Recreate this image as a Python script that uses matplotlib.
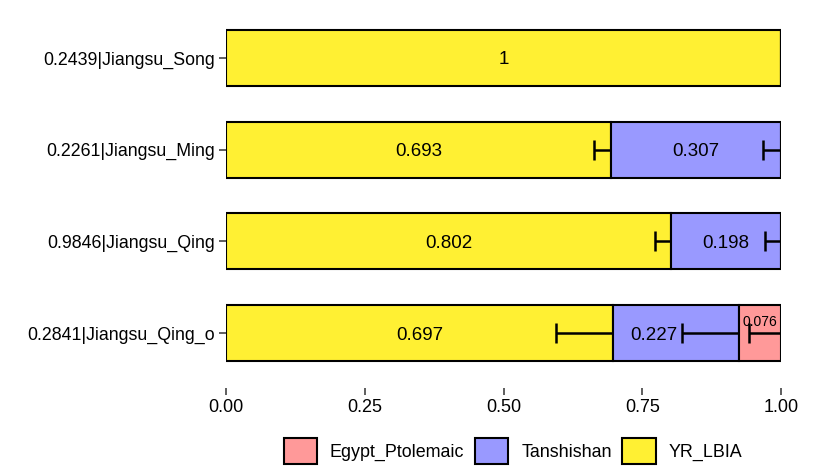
import matplotlib
matplotlib.use("Agg")
import matplotlib.pyplot as plt
from matplotlib.patches import Patch
import numpy as np

plt.rcParams['font.family'] = ['Liberation Sans', 'DejaVu Sans']

categories = ["0.2439|Jiangsu_Song", "0.2261|Jiangsu_Ming",
              "0.9846|Jiangsu_Qing", "0.2841|Jiangsu_Qing_o"]
sources = ["YR_LBIA", "Tanshishan", "Egypt_Ptolemaic"]
yr_lbia = [1.0, 0.693, 0.802, 0.697]
tanshishan = [0.0, 0.307, 0.198, 0.227]
egypt = [0.0, 0.0, 0.0, 0.076]
se_yr = [0.0, 0.030, 0.029, 0.102]
se_tan = [0.0, 0.032, 0.029, 0.103]
se_egy = [0.0, 0.0, 0.0, 0.057]
colors = {"YR_LBIA": "#FFF033", "Tanshishan": "#9999FF", "Egypt_Ptolemaic": "#FF9999"}

# repel-like label offsets (points) per (row, source)
label_offsets = {(3, "Tanshishan"): (-16, 0), (3, "Egypt_Ptolemaic"): (0, 9)}
label_sizes = {(3, "Egypt_Ptolemaic"): 10}

fig = plt.figure(figsize=(8.27, 4.74), dpi=100)
ax = fig.add_axes([226/827, 1-388/474, (781-226)/827, (388-3)/474])

vals = {"YR_LBIA": yr_lbia, "Tanshishan": tanshishan, "Egypt_Ptolemaic": egypt}
ses = {"YR_LBIA": se_yr, "Tanshishan": se_tan, "Egypt_Ptolemaic": se_egy}
ypos = np.arange(len(categories))
left = np.zeros(len(categories))
for src in sources:
    v = np.array(vals[src])
    ax.barh(ypos, v, left=left, height=0.61, color=colors[src],
            edgecolor="black", linewidth=1.5, zorder=2)
    right = left + v
    for i in range(len(categories)):
        if v[i] <= 0:
            continue
        se = ses[src][i]
        if se > 0:
            ax.plot([right[i] - se, right[i]], [ypos[i], ypos[i]],
                    color="black", lw=1.8, zorder=4, solid_capstyle="butt")
            ax.plot([right[i] - se, right[i] - se], [ypos[i] - 0.11, ypos[i] + 0.11],
                    color="black", lw=1.8, zorder=4, solid_capstyle="butt")
        mid = left[i] + v[i] / 2
        lab = "1" if v[i] == 1 else f"{v[i]:.3f}"
        off = label_offsets.get((i, src), (0, 0))
        fs = label_sizes.get((i, src), 13.5)
        ax.annotate(lab, (mid, ypos[i]), xytext=off, textcoords="offset points",
                    ha="center", va="center_baseline", fontsize=fs, color="black", zorder=5)
    left = right

ax.set_xlim(0, 1)
ax.set_ylim(len(categories) - 1 + 0.6, -0.6)
ax.set_yticks(ypos)
ax.set_yticklabels(categories, fontsize=12.8)
ax.set_xticks([0, 0.25, 0.5, 0.75, 1.0])
ax.set_xticklabels(["0.00", "0.25", "0.50", "0.75", "1.00"], fontsize=13)
ax.tick_params(axis="both", length=5, width=1.1, color="#333333", pad=3, labelcolor="black")
for s in ax.spines.values():
    s.set_visible(False)
ax.set_facecolor("none")

handles = [Patch(facecolor=colors[s], edgecolor="black", linewidth=1.5)
           for s in ["Egypt_Ptolemaic", "Tanshishan", "YR_LBIA"]]
fig.legend(handles, ["Egypt_Ptolemaic", "Tanshishan", "YR_LBIA"], loc="center",
           bbox_to_anchor=(513/827, 1-451/474), ncol=3, frameon=False, fontsize=12.9,
           handlelength=1.85, handleheight=1.85, handletextpad=0.72, columnspacing=0.6)

fig.savefig("out.png", dpi=100)
